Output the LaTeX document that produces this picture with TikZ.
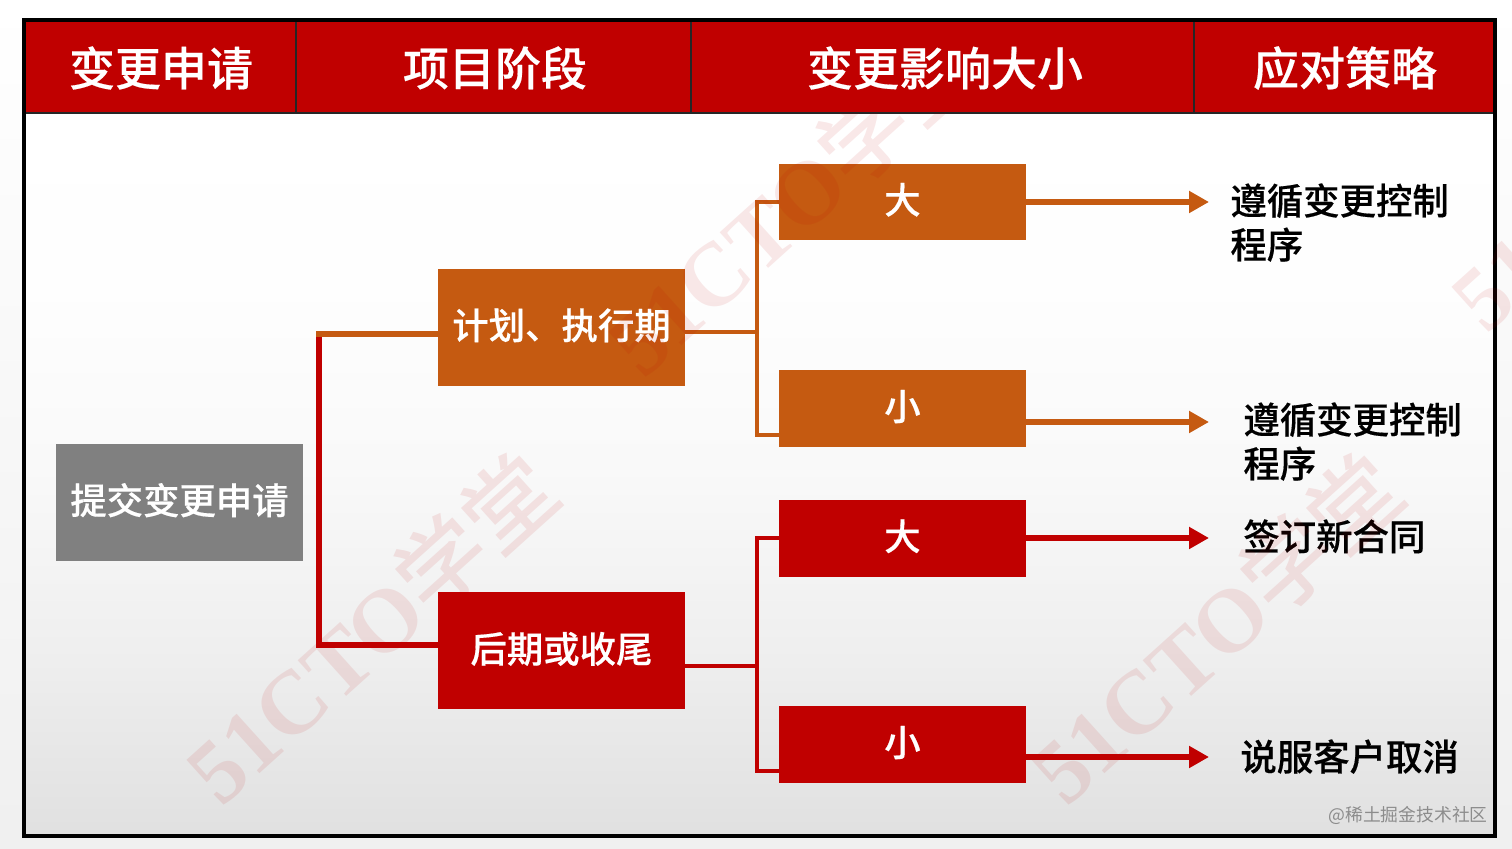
\documentclass[tikz,border=0pt]{standalone}
\usepackage{fontspec}
\setmainfont[BoldFont={Noto Sans CJK SC Medium}]{Noto Sans CJK SC}
\newfontfamily\wmlatin{Liberation Serif}
\newfontfamily\heavycjk[FakeBold=0.35]{Noto Sans CJK SC Medium}
\usetikzlibrary{arrows.meta}
\definecolor{hdrred}{HTML}{C00000}
\definecolor{burnt}{HTML}{C55A11}
\definecolor{stone}{HTML}{808080}
\pgfdeclareverticalshading{panelbg}{100bp}{
  color(0bp)=(black!12);
  color(25bp)=(black!12);
  color(37.5bp)=(black!6.5);
  color(50bp)=(black!2.5);
  color(62.5bp)=(black!0.5);
  color(75bp)=(white);
  color(100bp)=(white)}
\tikzset{
  x=0.5pt,y=-0.5pt,
  box/.style={rectangle,draw=none,inner sep=0pt,text=white,text height=15.84pt,text depth=4.16pt,font=\fontsize{18.2}{22}\selectfont\heavycjk},
  bigbox/.style={box,minimum width=123.5pt,minimum height=58.5pt},
  smallbox/.style={box,minimum width=123.5pt,minimum height=38.25pt},
  hdr/.style={inner sep=0pt,text=white,font=\fontsize{23}{26}\selectfont\heavycjk},
  result/.style={anchor=north west,inner sep=0pt,align=left,text=black,font=\fontsize{18.2}{22}\selectfont\heavycjk},
  bar/.style={line width=3pt,line cap=butt},
  thin bar/.style={line width=2pt,line cap=butt},
  outcome/.style={line width=3pt,-{Triangle[length=10pt,width=10.5pt]}},
  wm/.style={text=hdrred,text opacity=.09,inner sep=0pt,rotate=42,font=\fontsize{45}{50}\selectfont\bfseries}
}
\begin{document}
\begin{tikzpicture}
\useasboundingbox (0,0) rectangle (1512,849);
% page and panel
\shade[top color=white,bottom color=black!6] (0,0) rectangle (1512,849);
\shade[shading=panelbg] (24,113) rectangle (1495,836);
\fill[hdrred] (24,20) rectangle (1495,113);
\draw[line width=.6pt,black!85] (24,113) -- (1495,113);
\draw[line width=.6pt,black!85] (296,20) -- (296,113);
\draw[line width=.6pt,black!85] (691,20) -- (691,113);
\draw[line width=.6pt,black!85] (1194,20) -- (1194,113);
\draw[line width=2.1pt,black] (24,20) rectangle (1495,836);
% headers
\node[hdr] (h1) at (161,68) {变更申请};
\node[hdr] (h2) at (495,68) {项目阶段};
\node[hdr] (h3) at (945,68) {变更影响大小};
\node[hdr] (h4) at (1345,68) {应对策略};
% boxes
\node[bigbox,fill=stone] (submit) at (179.5,502.5) {提交变更申请};
\node[bigbox,fill=burnt] (plan) at (561.5,327.5) {计划、执行期};
\node[bigbox,fill=hdrred] (late) at (561.5,651) {后期或收尾};
\node[smallbox,fill=burnt] (pbig) at (902.5,202) {大};
\node[smallbox,fill=burnt] (psmall) at (902.5,408.5) {小};
\node[smallbox,fill=hdrred] (lbig) at (902.5,538.5) {大};
\node[smallbox,fill=hdrred] (lsmall) at (902.5,744.5) {小};
% results
\node[result] (r1) at (1230,183) {遵循变更控制\\程序};
\node[result] (r2) at (1243,402) {遵循变更控制\\程序};
\node[result] (r3) at (1243,519) {签订新合同};
\node[result] (r4) at (1240,739) {说服客户取消};
% bracket from the first column
\coordinate (trunkT) at (319,334);
\coordinate (trunkB) at (319,645);
\draw[bar,hdrred] (319,337) -- (trunkB);
\draw[bar,burnt] (316,334) -- (plan.west |- trunkT);
\draw[bar,hdrred] (316,645) -- (late.west |- trunkB);
% plan branch
\coordinate (pj) at (757,332);
\coordinate (pT) at (757,202);
\coordinate (pB) at (757,435);
\draw[thin bar,burnt] (plan.east |- pj) -- (pj);
\draw[thin bar,burnt] (pbig.west |- pT) -- (pT) -- (pB) -- (psmall.west |- pB);
% late branch
\coordinate (lj) at (757,666);
\coordinate (lT) at (757,538);
\coordinate (lB) at (757,771);
\draw[thin bar,hdrred] (late.east |- lj) -- (lj);
\draw[thin bar,hdrred] (lbig.west |- lT) -- (lT) -- (lB) -- (lsmall.west |- lB);
% outcome arrows
\coordinate (a1) at (1209,202);
\coordinate (a2) at (1209,422);
\coordinate (a3) at (1209,538);
\coordinate (a4) at (1209,757);
\draw[outcome,burnt] (pbig.east |- a1) -- (a1);
\draw[outcome,burnt] (psmall.east |- a2) -- (a2);
\draw[outcome,hdrred] (lbig.east |- a3) -- (a3);
\draw[outcome,hdrred] (lsmall.east |- a4) -- (a4);
% watermarks
\node[wm] (w1) at (370,628) {{\wmlatin 51CTO}学堂};
\node[wm] (w2) at (1215,628) {{\wmlatin 51CTO}学堂};
\begin{scope}
\clip (0,114) rectangle (1512,849);
\node[wm] (w3) at (792,200) {{\wmlatin 51CTO}学堂};
\node[wm] (w4) at (1635,155) {{\wmlatin 51CTO}学堂};
\end{scope}
% credit
\node[anchor=east,inner sep=0pt,text=black!45,font=\fontsize{8.9}{11}\selectfont] (credit) at (1488,815) {@稀土掘金技术社区};
\end{tikzpicture}
\end{document}
